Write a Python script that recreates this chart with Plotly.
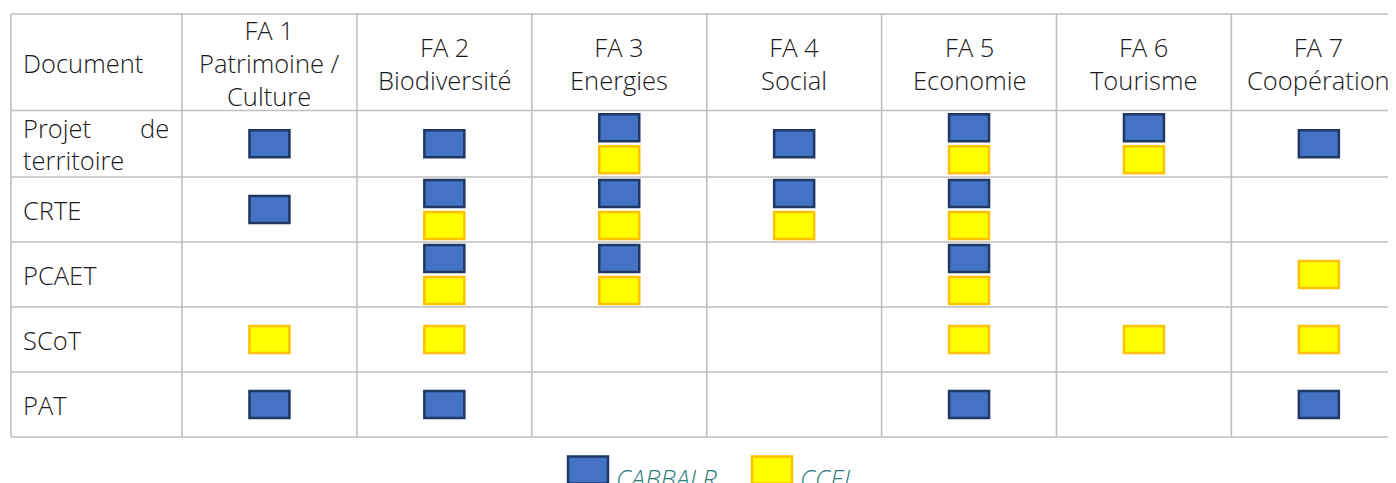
import plotly.graph_objects as go

# ---------------- data ----------------
fa_codes = ["FA 1", "FA 2", "FA 3", "FA 4", "FA 5", "FA 6", "FA 7"]
fa_names = ["Patrimoine /<br>Culture", "Biodiversité", "Energies", "Social",
            "Economie", "Tourisme", "Coopération"]
documents = ["Projet de territoire", "CRTE", "PCAET", "SCoT", "PAT"]
series_names = ["CABBALR", "CCEL"]
cabbalr = [
    [1, 1, 1, 1, 1, 1, 1],
    [1, 1, 1, 1, 1, 0, 0],
    [0, 1, 1, 0, 1, 0, 0],
    [0, 0, 0, 0, 0, 0, 0],
    [1, 1, 0, 0, 1, 0, 1],
]
ccel = [
    [0, 0, 1, 0, 1, 1, 0],
    [0, 1, 1, 1, 1, 0, 0],
    [0, 1, 1, 0, 1, 0, 1],
    [1, 1, 0, 0, 1, 1, 1],
    [0, 0, 0, 0, 0, 0, 0],
]

# ---------------- layout constants ----------------
W, H = 1396, 483
OFF = 8  # page body margin
x_left = 11
col_edges = [182 + i * 174.9 for i in range(8)]
y_edges = [14, 110.5, 177, 242, 307, 372, 437]
box_w, box_h = 40, 27
stack_off = 16
grid_col = "#BFBFBF"
font_fam = "Open Sans"
txt_col = "#1a1a1a"
fill = {"CABBALR": "#4472C4", "CCEL": "#FFFF00"}
edge = {"CABBALR": "#1F3864", "CCEL": "#FFC000"}
FS = 25.5

fig = go.Figure()
shapes = []
annotations = []

# grid
for x in [x_left] + col_edges:
    shapes.append(dict(type="line", xref="x", yref="y", x0=x, x1=x,
                       y0=y_edges[0], y1=y_edges[-1],
                       line=dict(color=grid_col, width=1.6)))
for y in y_edges:
    shapes.append(dict(type="line", xref="x", yref="y", x0=x_left, x1=col_edges[-1],
                       y0=y, y1=y, line=dict(color=grid_col, width=1.6)))

header_mid = (y_edges[0] + y_edges[1]) / 2
font = dict(family=font_fam, size=FS, color=txt_col, weight=300)

annotations.append(dict(x=21, y=header_mid + 1, xref="x", yref="y", text="Document",
                        showarrow=False, xanchor="left", yanchor="middle", font=font))
for i, (c, n) in enumerate(zip(fa_codes, fa_names)):
    cx = (col_edges[i] + col_edges[i + 1]) / 2
    annotations.append(dict(x=cx, y=header_mid + 1, xref="x", yref="y",
                            text=c + "<br>" + n, showarrow=False,
                            xanchor="center", yanchor="middle", align="center",
                            font=font))

# row labels
for r, d in enumerate(documents):
    cy = (y_edges[r + 1] + y_edges[r + 2]) / 2
    if d == "Projet de territoire":
        words = d.split(" ")
        annotations.append(dict(x=21, y=cy - 16, xref="x", yref="y", text=words[0],
                                showarrow=False, xanchor="left", yanchor="middle", font=font))
        annotations.append(dict(x=171, y=cy - 16, xref="x", yref="y", text=words[1],
                                showarrow=False, xanchor="right", yanchor="middle", font=font))
        annotations.append(dict(x=21, y=cy + 16, xref="x", yref="y", text=words[2],
                                showarrow=False, xanchor="left", yanchor="middle", font=font))
    else:
        annotations.append(dict(x=21, y=cy, xref="x", yref="y", text=d,
                                showarrow=False, xanchor="left", yanchor="middle", font=font))


def box(cx, cy, name):
    return dict(type="rect", xref="x", yref="y",
                x0=cx - box_w / 2, x1=cx + box_w / 2,
                y0=cy - box_h / 2, y1=cy + box_h / 2,
                fillcolor=fill[name], line=dict(color=edge[name], width=2.5))


for r in range(len(documents)):
    cy = (y_edges[r + 1] + y_edges[r + 2]) / 2
    for c in range(len(fa_codes)):
        cx = (col_edges[c] + col_edges[c + 1]) / 2
        a, b = cabbalr[r][c], ccel[r][c]
        if a and b:
            shapes.append(box(cx, cy - stack_off, "CABBALR"))
            shapes.append(box(cx, cy + stack_off, "CCEL"))
        elif a:
            shapes.append(box(cx, cy, "CABBALR"))
        elif b:
            shapes.append(box(cx, cy, "CCEL"))

# legend
leg_y = 470
leg_items = [(588, series_names[0]), (772, series_names[1])]
for lx, name in leg_items:
    shapes.append(box(lx, leg_y, name))
    annotations.append(dict(x=lx + 26, y=leg_y + 8, xref="x", yref="y", text="<i>" + name + "</i>",
                            showarrow=False, xanchor="left", yanchor="middle",
                            font=dict(family=font_fam, size=FS, color="#2E7B7B", weight=300)))

# invisible trace to anchor axes
fig.add_trace(go.Scatter(x=[OFF, W + OFF], y=[OFF, H + OFF], mode="markers",
                         marker=dict(opacity=0), hoverinfo="skip", showlegend=False))

fig.update_layout(
    width=W, height=H, margin=dict(l=0, r=0, t=0, b=0),
    paper_bgcolor="white", plot_bgcolor="white",
    xaxis=dict(range=[OFF, W + OFF], visible=False, fixedrange=True),
    yaxis=dict(range=[H + OFF, OFF], visible=False, fixedrange=True),
    shapes=shapes, annotations=annotations, showlegend=False,
)

fig.write_html("out.html")
